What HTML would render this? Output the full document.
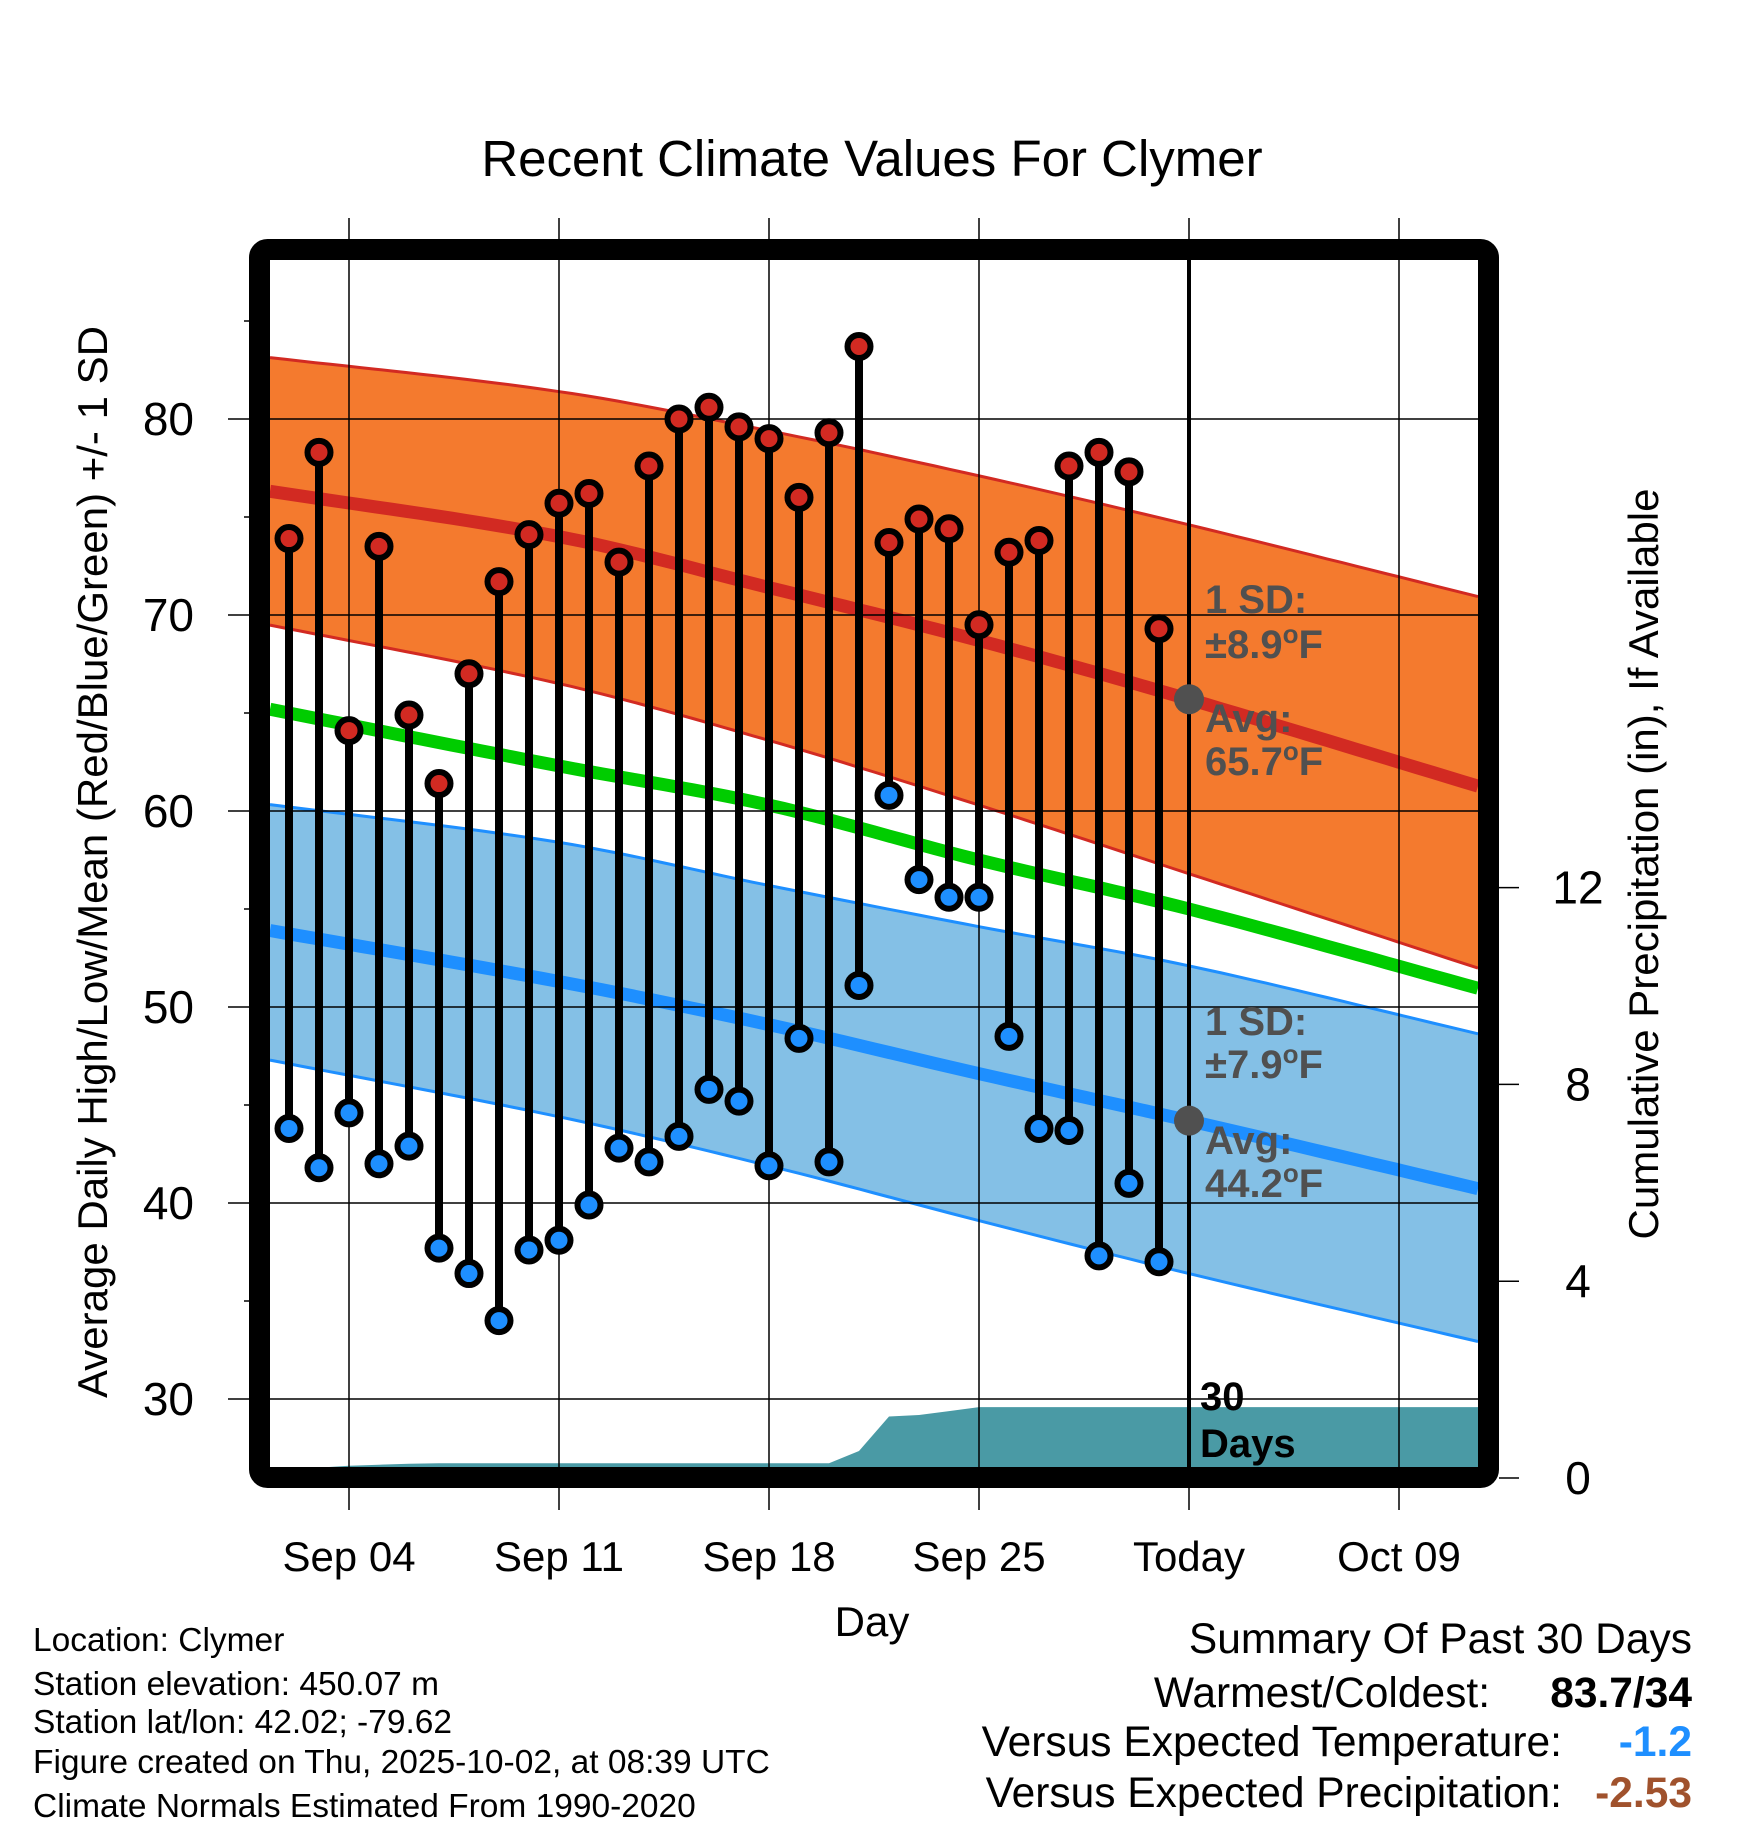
<!DOCTYPE html>
<html><head><meta charset="utf-8"><style>
body{margin:0;background:#fff}
svg{display:block;font-family:"Liberation Sans",sans-serif}
</style></head><body>
<svg id="chart" width="1748" height="1828" viewBox="0 0 1748 1828">
<g id="bands"></g><g id="grid"></g><g id="marks"></g><g id="ann"></g><g id="axes"></g>
</svg>
<script>
// ---- data ----
const highs=[73.9,78.3,64.1,73.5,64.9,61.4,67.0,71.7,74.1,75.7,76.2,72.7,77.6,80.0,80.6,79.6,79.0,76.0,79.3,83.7,73.7,74.9,74.4,69.5,73.2,73.8,77.6,78.3,77.3,69.3];
const lows=[43.8,41.8,44.6,42.0,42.9,37.7,36.4,34.0,37.6,38.1,39.9,42.8,42.1,43.4,45.8,45.2,41.9,48.4,42.1,51.1,60.8,56.5,55.6,55.6,48.5,43.8,43.7,37.3,41.0,37.0];
const precip=[0.20,0.21,0.25,0.27,0.29,0.30,0.30,0.30,0.30,0.30,0.30,0.30,0.30,0.30,0.30,0.30,0.30,0.30,0.30,0.55,1.25,1.28,1.36,1.44,1.44,1.44,1.44,1.44,1.44,1.44,1.44];
const normDays=[0,10,17,24,31,41];
const highUpper=[83.2,81.4,79.4,77.1,74.6,70.8];
const highMean=[76.4,74.0,71.4,68.7,65.7,61.1];
const highLower=[69.6,66.5,63.6,60.3,56.8,51.8];
const meanTemp=[65.3,62.3,60.3,57.5,55.0,50.8];
const lowUpper=[60.4,58.4,56.2,54.1,52.1,48.5];
const lowMean=[54.0,51.3,49.1,46.6,44.2,40.6];
const lowLower=[47.4,44.4,41.9,39.1,36.4,32.8];
const yTicks=[30,40,50,60,70,80];
const pTicks=[0,4,8,12];
const xTickDays=[3,10,17,24,31,38];
const xTickLabels=["Sep 04","Sep 11","Sep 18","Sep 25","Today","Oct 09"];
const firstDay=1; // Sep 2 index
const todayDay=31;
// ---- scales ----
const X=d=>259+30*d;
const Y=t=>419+(80-t)*19.6;
const P=p=>1478-p*49.2;
const L=270,R=1478,T=260,B=1468;
const NS="http://www.w3.org/2000/svg";
function mk(parent,tag,attrs,text){const e=document.createElementNS(NS,tag);for(const k in attrs)e.setAttribute(k,attrs[k]);if(text!==undefined)e.textContent=text;document.getElementById(parent).appendChild(e);return e;}
// Catmull-Rom style smooth interpolation
function interp(arr,d){
 const n=normDays.length;let i=0;while(i<n-2&&d>normDays[i+1])i++;
 const x0=normDays[i],x1=normDays[i+1],u=(d-x0)/(x1-x0);
 const slope=k=>{if(k<=0)return (arr[1]-arr[0])/(normDays[1]-normDays[0]);if(k>=n-1)return (arr[n-1]-arr[n-2])/(normDays[n-1]-normDays[n-2]);return (arr[k+1]-arr[k-1])/(normDays[k+1]-normDays[k-1]);};
 const h=x1-x0,m0=slope(i)*h,m1=slope(i+1)*h,u2=u*u,u3=u2*u;
 return (2*u3-3*u2+1)*arr[i]+(u3-2*u2+u)*m0+(-2*u3+3*u2)*arr[i+1]+(u3-u2)*m1;
}
const dL=(L-259)/30,dR=(R-259)/30;
function linePts(arr){const pts=[];for(let k=0;k<=80;k++){const d=dL+(dR-dL)*k/80;pts.push(X(d).toFixed(1)+","+Y(interp(arr,d)).toFixed(1));}return pts;}
function band(up,lo,fill,stroke,name){
 const u=linePts(up),l=linePts(lo).reverse();
 let e=mk('bands','polygon',{points:u.concat(l).join(' '),fill:fill,stroke:'none'});
 
 
 e=mk('bands','polyline',{points:u.join(' '),fill:'none',stroke:stroke,'stroke-width':3});
 
 
 e=mk('bands','polyline',{points:linePts(lo).join(' '),fill:'none',stroke:stroke,'stroke-width':3});
 
 
}
band(highUpper,highLower,'#f47a2e','#d22a22','high-sd-band');
band(lowUpper,lowLower,'#84c0e6','#1e8fff','low-sd-band');
[[highMean,'#d22a22','normal-high-line'],[meanTemp,'#00cc00','normal-mean-line'],[lowMean,'#1e8fff','normal-low-line']].forEach(([a,c,n])=>{
 const e=mk('bands','polyline',{points:linePts(a).join(' '),fill:'none',stroke:c,'stroke-width':13});
 
 
});
// precip area
{const pts=[X(dL)+","+P(0)];pts.push(X(dL)+","+P(precip[0]));precip.forEach((p,i)=>pts.push(X(firstDay+i)+","+P(p)));pts.push(R+","+P(precip[precip.length-1]));pts.push(R+","+P(0));
 const e=mk('bands','polygon',{points:pts.join(' '),fill:'#4a9aa5'});
 
 }
// grid
yTicks.forEach(t=>{const e=mk('grid','line',{x1:228,x2:R,y1:Y(t),y2:Y(t),stroke:'#000','stroke-width':1.5});
 
 
 const l=mk('axes','text',{x:194,y:Y(t)+16,'font-size':46,'text-anchor':'end'},t);
 
 });
[35,45,55,65,75,85].forEach(t=>{const e=mk('axes','line',{x1:244,x2:249,y1:Y(t),y2:Y(t),stroke:'#000','stroke-width':1.5});
 
 });
xTickDays.forEach((d,i)=>{const e=mk('grid','line',{x1:X(d),x2:X(d),y1:218,y2:1510,stroke:'#000','stroke-width':1.5});
 
 
 const l=mk('axes','text',{x:X(d),y:1571,'font-size':42,'text-anchor':'middle'},xTickLabels[i]);
 
 });
pTicks.forEach(p=>{const e=mk('axes','line',{x1:1499,x2:1519,y1:P(p),y2:P(p),stroke:'#000','stroke-width':1.5});
 
 
 const l=mk('axes','text',{x:1578,y:P(p)+16,'font-size':46,'text-anchor':'middle'},p);
 
 });
// today line
{const e=mk('marks','line',{x1:X(todayDay),x2:X(todayDay),y1:T,y2:B,stroke:'#000','stroke-width':4});
 
 }
// stems & markers
highs.forEach((h,i)=>{const x=X(firstDay+i);
 const s=mk('marks','line',{x1:x,x2:x,y1:Y(h),y2:Y(lows[i]),stroke:'#000','stroke-width':8});
 
 });
highs.forEach((h,i)=>{const x=X(firstDay+i);
 const a=mk('marks','circle',{cx:x,cy:Y(h),r:11.5,fill:'#d22a22',stroke:'#000','stroke-width':6});
 
 
 const b=mk('marks','circle',{cx:x,cy:Y(lows[i]),r:11.5,fill:'#1e8fff',stroke:'#000','stroke-width':6});
 
 });
// annotations
[[highMean,'normal-high-dot'],[lowMean,'normal-low-dot']].forEach(([a,n])=>{const e=mk('ann','circle',{cx:X(todayDay),cy:Y(interp(a,todayDay)),r:15,fill:'#505050'});
 
 });
function at(x,y,s,n,c,sz){const e=mk('ann','text',{x:x,y:y,'font-size':sz||40,'font-weight':'bold',fill:c||'#505050'});e.innerHTML=s;
 
 }
at(1205,613,'1 SD:','high-sd-label');
at(1205,658,'±8.9<tspan dy="-15" font-size="26">o</tspan><tspan dy="15">F</tspan>','high-sd-value');
at(1205,732,'Avg:','high-avg-label');
at(1205,775,'65.7<tspan dy="-15" font-size="26">o</tspan><tspan dy="15">F</tspan>','high-avg-value');
at(1205,1035,'1 SD:','low-sd-label');
at(1205,1078,'±7.9<tspan dy="-15" font-size="26">o</tspan><tspan dy="15">F</tspan>','low-sd-value');
at(1205,1154,'Avg:','low-avg-label');
at(1205,1197,'44.2<tspan dy="-15" font-size="26">o</tspan><tspan dy="15">F</tspan>','low-avg-value');
at(1200,1410,'30','days-count','#000');
at(1200,1457,'Days','days-label','#000');
</script>
<svg width="1748" height="1828" style="position:absolute;left:0;top:0">
<rect x="259.5" y="249.5" width="1229" height="1228" rx="8" fill="none" stroke="#000" stroke-width="21"/>
<g font-family="Liberation Sans, sans-serif">
<text x="872" y="176" font-size="51" text-anchor="middle">Recent Climate Values For Clymer</text>
<text x="872" y="1636" font-size="42" text-anchor="middle">Day</text>
<text transform="translate(107,862) rotate(-90)" font-size="42" text-anchor="middle">Average Daily High/Low/Mean (Red/Blue/Green) +/- 1 SD</text>
<text transform="translate(1658,864) rotate(-90)" font-size="42" text-anchor="middle">Cumulative Precipitation (in), If Available</text>
<g font-size="33.5">
<text x="33" y="1651">Location: Clymer</text>
<text x="33" y="1695">Station elevation: 450.07 m</text>
<text x="33" y="1733">Station lat/lon: 42.02; -79.62</text>
<text x="33" y="1773">Figure created on Thu, 2025-10-02, at 08:39 UTC</text>
<text x="33" y="1817">Climate Normals Estimated From 1990-2020</text>
</g>
<g font-size="42.5">
<text x="1692" y="1653" text-anchor="end">Summary Of Past 30 Days</text>
<text x="1490" y="1707" text-anchor="end">Warmest/Coldest:</text>
<text x="1692" y="1707" text-anchor="end" font-weight="bold">83.7/34</text>
<text x="1562" y="1756" text-anchor="end">Versus Expected Temperature:</text>
<text x="1692" y="1756" text-anchor="end" font-weight="bold" fill="#1e8fff">-1.2</text>
<text x="1562" y="1807" text-anchor="end">Versus Expected Precipitation:</text>
<text x="1692" y="1807" text-anchor="end" font-weight="bold" fill="#a0522d">-2.53</text>
</g>
</g>
</svg>
</body></html>
